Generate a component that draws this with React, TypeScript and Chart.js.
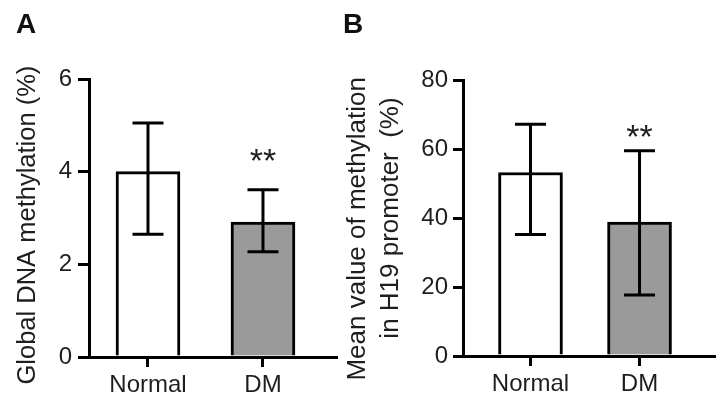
import React, { useEffect, useRef } from 'react';
import { Chart, registerables } from 'chart.js';

Chart.register(...registerables);

// ---------- data ----------
const categories = ['Normal', 'DM'];

const globalMeans = [4.0, 2.91];
const globalUpper = [5.05, 3.61];
const globalLower = [2.65, 2.27];
const globalStars = ['', '**'];
const globalStarY = [0, 4.42];
const globalYMax = 6;
const globalYStep = 2;

const h19Means = [53.2, 38.8];
const h19Upper = [67.2, 59.5];
const h19Lower = [35.2, 17.7];
const h19Stars = ['', '**'];
const h19StarY = [0, 66];
const h19YMax = 80;
const h19YStep = 20;

// ---------- style ----------
const FONT = "'Liberation Sans', Arial, sans-serif";
const TEXT = '#1e1e1e';
const BAR_COLORS = ['#ffffff', '#9a9a9a'];
const CAP = 15.5;
const STAR_SIZE = 34;

const errorBarPlugin = {
  id: 'errorBars',
  afterDatasetsDraw(chart: any) {
    const ds = chart.data.datasets[0];
    const xs = chart.scales.x;
    const ys = chart.scales.y;
    const ctx = chart.ctx;
    ctx.save();
    ctx.strokeStyle = '#000';
    ctx.lineWidth = 3;
    ctx.lineCap = 'butt';
    ds.data.forEach((pt: any, i: number) => {
      const x = xs.getPixelForValue(pt.x);
      const yu = ys.getPixelForValue(ds.errUpper[i]);
      const yl = ys.getPixelForValue(ds.errLower[i]);
      ctx.beginPath();
      ctx.moveTo(x, yu);
      ctx.lineTo(x, yl);
      ctx.moveTo(x - CAP, yu);
      ctx.lineTo(x + CAP, yu);
      ctx.moveTo(x - CAP, yl);
      ctx.lineTo(x + CAP, yl);
      ctx.stroke();
      if (ds.stars[i]) {
        const sy = ys.getPixelForValue(ds.starY[i]);
        ctx.fillStyle = TEXT;
        ctx.font = `${STAR_SIZE}px ${FONT}`;
        ctx.textAlign = 'center';
        ctx.textBaseline = 'alphabetic';
        ctx.fillText(ds.stars[i], x, sy + 0.57 * STAR_SIZE);
      }
    });
    ctx.restore();
  },
};

const letterPlugin = {
  id: 'panelLetter',
  afterDraw(chart: any, _args: any, opts: any) {
    const ctx = chart.ctx;
    ctx.save();
    ctx.fillStyle = '#111';
    ctx.font = `bold 28px ${FONT}`;
    ctx.textAlign = 'left';
    ctx.textBaseline = 'alphabetic';
    ctx.fillText(opts.text, opts.x, opts.y);
    ctx.restore();
  },
};

interface PanelSpec {
  letter: string;
  letterX: number;
  width: number;
  yTitle: string | string[];
  titleSize: number;
  yMax: number;
  yStep: number;
  xMin: number;
  xMax: number;
  means: number[];
  upper: number[];
  lower: number[];
  stars: string[];
  starY: number[];
  yAxisWidth: number;
  xAxisHeight: number;
  padTop: number;
  padRight: number;
  yTickLength: number;
  yTickPadding: number;
  titlePad: number;
}

function makeConfig(p: PanelSpec): any {
  return {
    type: 'bar',
    data: {
      datasets: [
        {
          data: p.means.map((v, i) => ({ x: i, y: v })),
          backgroundColor: BAR_COLORS,
          borderColor: '#000',
          borderWidth: 3,
          barThickness: 64,
          errUpper: p.upper,
          errLower: p.lower,
          stars: p.stars,
          starY: p.starY,
        },
      ],
    },
    options: {
      responsive: false,
      animation: false,
      events: [],
      layout: { padding: { left: 0, top: p.padTop, right: p.padRight, bottom: 0 } },
      plugins: {
        legend: { display: false },
        tooltip: { enabled: false },
        panelLetter: { text: p.letter, x: p.letterX, y: 33 },
      },
      scales: {
        x: {
          type: 'linear',
          min: p.xMin,
          max: p.xMax,
          offset: false,
          afterBuildTicks: (s: any) => {
            s.ticks = categories.map((_, i) => ({ value: i }));
          },
          afterFit: (s: any) => {
            s.height = p.xAxisHeight;
          },
          ticks: {
            callback: (v: any) => categories[v] ?? '',
            font: { family: FONT, size: 24 },
            color: TEXT,
            padding: 4,
            maxRotation: 0,
            autoSkip: false,
          },
          grid: {
            drawOnChartArea: false,
            drawTicks: true,
            tickLength: 10,
            tickWidth: 3,
            tickColor: '#000',
            offset: false,
            lineWidth: 3,
            color: '#000',
          },
          border: { display: true, color: '#000', width: 3 },
        },
        y: {
          min: 0,
          max: p.yMax,
          afterFit: (s: any) => {
            s.width = p.yAxisWidth;
          },
          ticks: {
            stepSize: p.yStep,
            font: { family: FONT, size: 24 },
            color: TEXT,
            padding: p.yTickPadding,
          },
          grid: {
            drawOnChartArea: false,
            drawTicks: true,
            tickLength: p.yTickLength,
            tickWidth: 3,
            tickColor: '#000',
            lineWidth: 3,
            color: '#000',
          },
          border: { display: true, color: '#000', width: 3 },
          title: {
            display: true,
            text: p.yTitle,
            font: { family: FONT, size: p.titleSize, lineHeight: 32.5 / p.titleSize },
            color: TEXT,
            padding: { top: p.titlePad, bottom: 0 },
          },
        },
      },
    },
    plugins: [errorBarPlugin, letterPlugin],
  };
}

const panelA: PanelSpec = {
  letter: 'A',
  letterX: 16,
  width: 340,
  yTitle: 'Global DNA methylation (%)  ',
  titleSize: 25.5,
  yMax: globalYMax,
  yStep: globalYStep,
  xMin: -0.513,
  xMax: 1.635,
  means: globalMeans,
  upper: globalUpper,
  lower: globalLower,
  stars: globalStars,
  starY: globalStarY,
  yAxisWidth: 89,
  xAxisHeight: 50,
  padTop: 79,
  padRight: 4,
  yTickLength: 11,
  yTickPadding: 6,
  titlePad: 12,
};

const panelB: PanelSpec = {
  letter: 'B',
  letterX: 3,
  width: 380,
  yTitle: ['Mean value of methylation   ', 'in H19 promoter  (%)'],
  titleSize: 26,
  yMax: h19YMax,
  yStep: h19YStep,
  xMin: -0.619,
  xMax: 1.683,
  means: h19Means,
  upper: h19Upper,
  lower: h19Lower,
  stars: h19Stars,
  starY: h19StarY,
  yAxisWidth: 123,
  xAxisHeight: 51,
  padTop: 80,
  padRight: 6,
  yTickLength: 10,
  yTickPadding: 5,
  titlePad: 2,
};

function Panel({ spec, left }: { spec: PanelSpec; left: number }) {
  const ref = useRef<HTMLCanvasElement | null>(null);
  useEffect(() => {
    if (!ref.current) return;
    const chart = new Chart(ref.current, makeConfig(spec));
    return () => chart.destroy();
  }, [spec]);
  return (
    <canvas
      ref={ref}
      width={spec.width}
      height={407}
      style={{ position: 'absolute', left, top: 0, width: spec.width, height: 407 }}
    />
  );
}

export default function App() {
  return (
    <div
      style={{
        position: 'fixed',
        left: 0,
        top: 0,
        width: 720,
        height: 407,
        background: '#fff',
        overflow: 'hidden',
      }}
    >
      <Panel spec={panelA} left={0} />
      <Panel spec={panelB} left={340} />
    </div>
  );
}
